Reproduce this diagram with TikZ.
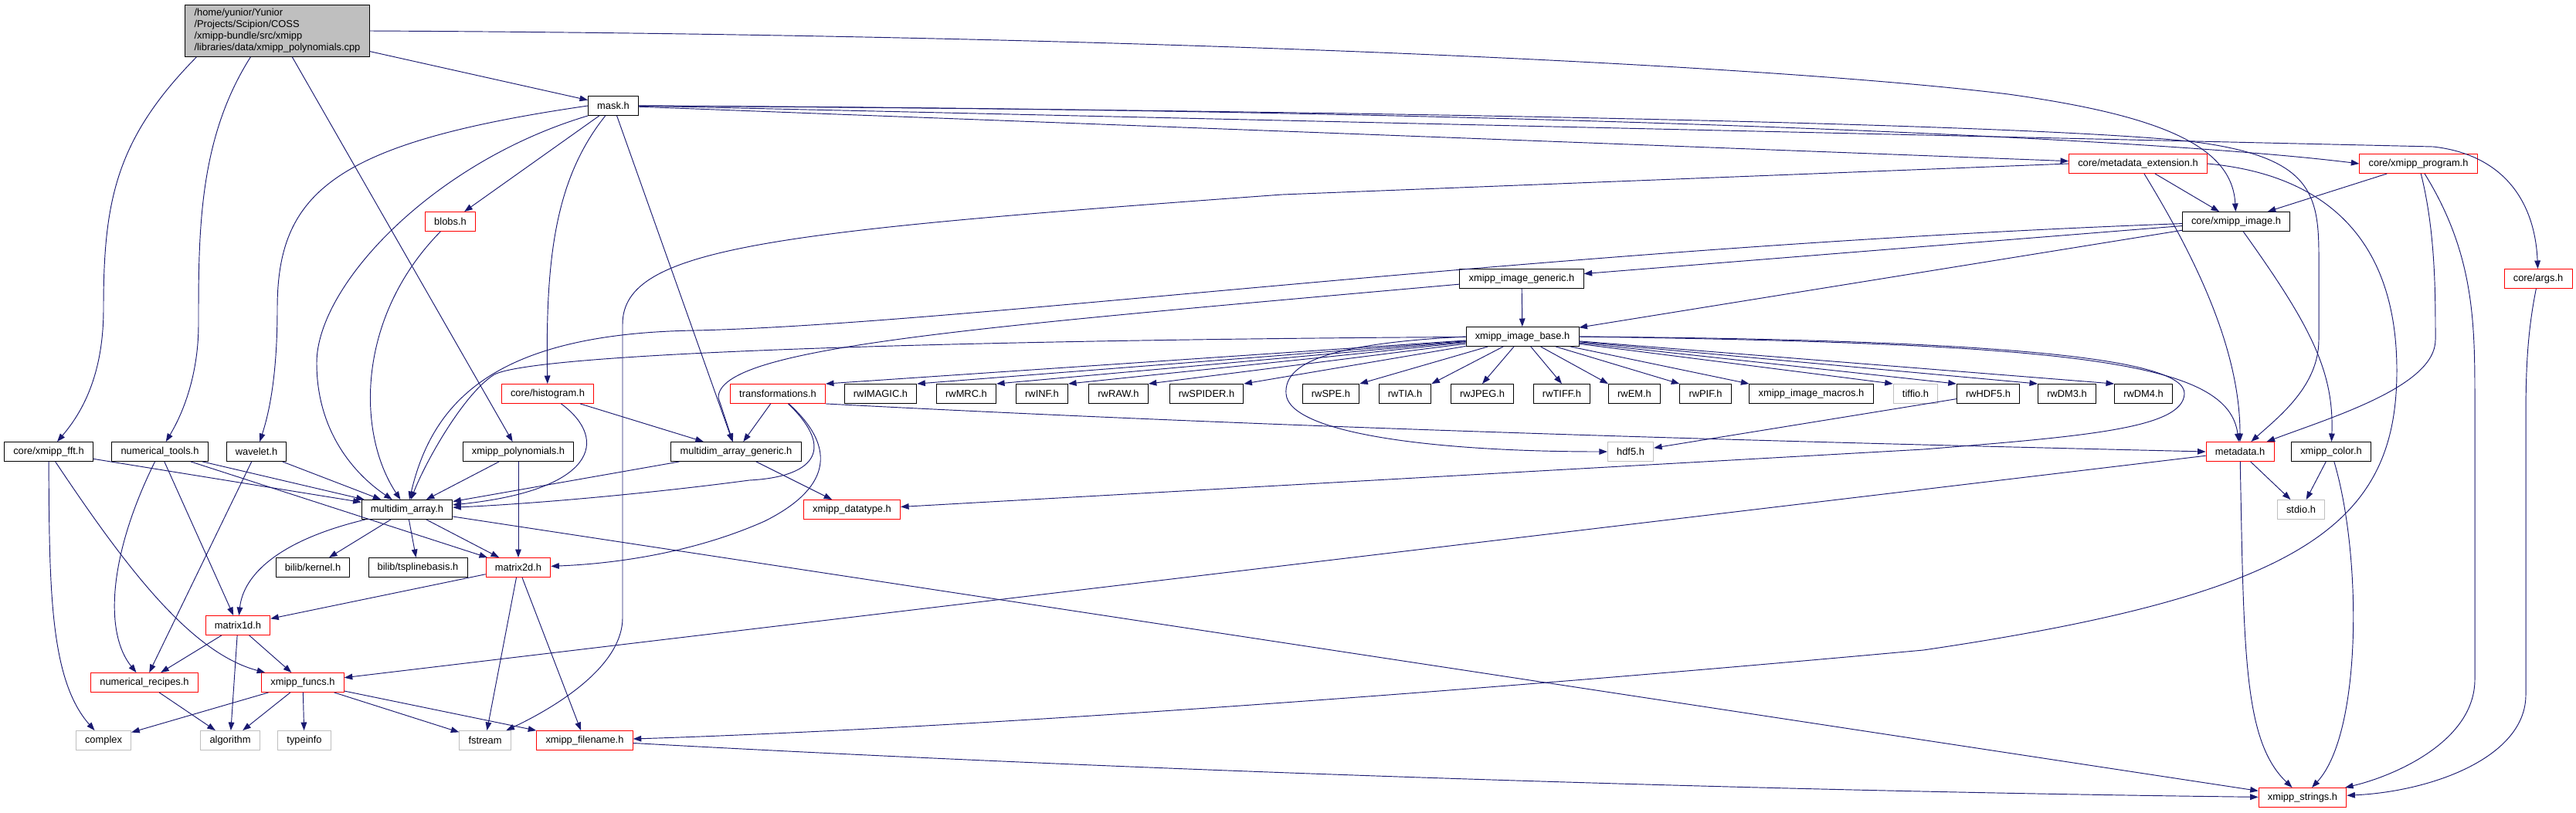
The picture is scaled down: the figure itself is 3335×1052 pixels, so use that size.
\documentclass[tikz,border=0pt]{standalone}
\usepackage{fontspec}
\setmainfont{Liberation Sans}
\usetikzlibrary{arrows.meta,calc,positioning}
\definecolor{edgeblue}{HTML}{191970}
\definecolor{boxred}{HTML}{FF0000}
\definecolor{boxgrey}{HTML}{BFBFBF}

\begin{document}
\begin{tikzpicture}[x=0.03cm,y=-0.03cm,
every node/.style={draw,rectangle,fill=white,font=\fontsize{11}{12.8}\selectfont,
  inner xsep=10pt,inner ysep=2pt,minimum height=21.3pt,line width=0.8pt},
rednode/.style={draw=boxred},
greynode/.style={draw=boxgrey},
inc/.style={draw=edgeblue,line width=0.8pt,-{Triangle[length=9pt,width=6.5pt]}}]
\useasboundingbox[fill=white] (0,0) rectangle (3335,1052);

% files
\node[fill=boxgrey,align=left,inner ysep=4.2pt] (polycpp) at (359,40) {/home/yunior/Yunior\\/Projects/Scipion/COSS\\/xmipp-bundle/src/xmipp\\/libraries/data/xmipp\_polynomials.cpp};
\node (maskh) at (794,137) {mask.h};
\node[rednode] (blobsh) at (583,287) {blobs.h};
\node[rednode] (metadataextensionh) at (2768,212) {core/metadata\_extension.h};
\node[rednode] (xmippprogramh) at (3131,212) {core/xmipp\_program.h};
\node (xmippimageh) at (2895,287) {core/xmipp\_image.h};
\node[rednode] (coreargsh) at (3286,361) {core/args.h};
\node (xmippimagegenerich) at (1970,361) {xmipp\_image\_generic.h};
\node (xmippimagebaseh) at (1971,436) {xmipp\_image\_base.h};
\node[rednode] (histogramh) at (709,510) {core/histogram.h};
\node[rednode] (transformationsh) at (1007,510) {transformations.h};
\node (rwIMAGICh) at (1140,510) {rwIMAGIC.h};
\node (rwMRCh) at (1251,510) {rwMRC.h};
\node (rwINFh) at (1349,510) {rwINF.h};
\node (rwRAWh) at (1448,510) {rwRAW.h};
\node (rwSPIDERh) at (1562,510) {rwSPIDER.h};
\node (rwSPEh) at (1723,510) {rwSPE.h};
\node (rwTIAh) at (1819,510) {rwTIA.h};
\node (rwJPEGh) at (1919,510) {rwJPEG.h};
\node (rwTIFFh) at (2022,510) {rwTIFF.h};
\node (rwEMh) at (2116,510) {rwEM.h};
\node (rwPIFh) at (2208,510) {rwPIF.h};
\node (xmippimagemacrosh) at (2345,510) {xmipp\_image\_macros.h};
\node[greynode] (tiffioh) at (2480,510) {tiffio.h};
\node (rwHDF5h) at (2574,510) {rwHDF5.h};
\node (rwDM3h) at (2676,510) {rwDM3.h};
\node (rwDM4h) at (2775,510) {rwDM4.h};
\node (corexmippffth) at (63,585) {core/xmipp\_fft.h};
\node (numericaltoolsh) at (207,585) {numerical\_tools.h};
\node (waveleth) at (332,585) {wavelet.h};
\node (xmipppolynomialsh) at (671,585) {xmipp\_polynomials.h};
\node (multidimarraygenerich) at (953,585) {multidim\_array\_generic.h};
\node[greynode] (hdf5h) at (2111,585) {hdf5.h};
\node[rednode] (metadatah) at (2900,585) {metadata.h};
\node (xmippcolorh) at (3018,585) {xmipp\_color.h};
\node (multidimarrayh) at (527,660) {multidim\_array.h};
\node[rednode] (xmippdatatypeh) at (1103,660) {xmipp\_datatype.h};
\node[greynode] (stdioh) at (2979,660) {stdio.h};
\node (bilibkernelh) at (405,735) {bilib/kernel.h};
\node (bilibtsplinebasish) at (541,735) {bilib/tsplinebasis.h};
\node[rednode] (matrix2dh) at (671,735) {matrix2d.h};
\node[rednode] (matrix1dh) at (308,810) {matrix1d.h};
\node[rednode] (numericalrecipesh) at (187,884) {numerical\_recipes.h};
\node[rednode] (xmippfuncsh) at (392,884) {xmipp\_funcs.h};
\node[greynode] (complex) at (134,959) {complex};
\node[greynode] (algorithm) at (298,959) {algorithm};
\node[greynode] (typeinfo) at (394,959) {typeinfo};
\node[greynode] (fstream) at (628,959) {fstream};
\node[rednode] (xmippfilenameh) at (757,959) {xmipp\_filename.h};
\node[rednode] (xmippstringsh) at (2981,1033) {xmipp\_strings.h};

% includes of the cpp file
\draw[inc] (polycpp) -- (maskh);
\draw[inc] (polycpp.east) .. controls (1500,45) and (2300,85) .. (2600,122) .. controls (2800,150) and (2890,190) .. (xmippimageh);
\draw[inc] ($(polycpp.south west)+(15,0)$) .. controls (150,180) and (134,260) .. (134,400) .. controls (134,480) and (110,530) .. (corexmippffth);
\draw[inc] ($(polycpp.south west)+(85,0)$) .. controls (257,180) and (257,300) .. (257,420) .. controls (257,480) and (240,530) .. (numericaltoolsh);
\draw[inc] (polycpp) -- (xmipppolynomialsh);

% mask.h
\draw[inc] (maskh) -- (blobsh);
\draw[inc] (maskh) .. controls (720,230) and (706,330) .. (histogramh);
\draw[inc] (maskh.west) .. controls (430,185) and (359,250) .. (359,400) .. controls (359,480) and (350,530) .. (waveleth);
\draw[inc] (maskh.south west) .. controls (560,210) and (410,370) .. (410,470) .. controls (410,560) and (460,615) .. (multidimarrayh);
\draw[inc] (maskh) -- (multidimarraygenerich);
\draw[inc] (maskh) -- (metadataextensionh);
\draw[inc] (maskh.east) .. controls (2000,142) and (2800,180) .. (xmippprogramh.west);
\draw[inc] (maskh.east) -- (3150,190) .. controls (3240,200) and (3282,260) .. (coreargsh);
\draw[inc] (maskh.east) .. controls (2000,145) and (2700,165) .. (2850,185) .. controls (2990,205) and (3002,250) .. (3002,330) -- (3002,440) .. controls (3002,500) and (2950,540) .. (metadatah);

% core headers
\draw[inc] (metadataextensionh) -- (xmippimageh);
\draw[inc] (metadataextensionh) .. controls (2840,330) and (2900,450) .. (metadatah);
\draw[inc] (metadataextensionh.west) -- (1660,252) .. controls (1000,300) and (806,320) .. (806,420) -- (806,800) .. controls (806,870) and (700,925) .. (fstream);
\draw[inc] (metadataextensionh.east) .. controls (3000,225) and (3103,300) .. (3103,480) .. controls (3103,680) and (2980,770) .. (2490,842) .. controls (1800,905) and (1200,945) .. (xmippfilenameh);
\draw[inc] (xmippprogramh) -- (xmippimageh);
\draw[inc] (xmippprogramh) .. controls (3153,300) and (3153,380) .. (3153,440) .. controls (3153,500) and (3020,540) .. (metadatah);
\draw[inc] (xmippprogramh) .. controls (3204,330) and (3204,420) .. (3204,520) -- (3204,880) .. controls (3204,960) and (3100,1005) .. (xmippstringsh);
\draw[inc] (coreargsh) .. controls (3272,430) and (3270,480) .. (3270,540) -- (3270,900) .. controls (3270,980) and (3150,1025) .. (xmippstringsh);
\draw[inc] (xmippimageh) .. controls (2990,420) and (3022,480) .. (xmippcolorh);
\draw[inc] (xmippimageh) -- (xmippimagegenerich);
\draw[inc] (xmippimageh) -- (xmippimagebaseh);
\draw[inc] (xmippimageh) .. controls (2000,320) and (1250,420) .. (900,428) .. controls (640,432) and (560,520) .. (multidimarrayh);
\draw[inc] (xmippimagegenerich) -- (xmippimagebaseh);
\draw[inc] (xmippimagegenerich) .. controls (1250,425) and (930,450) .. (930,515) -- (multidimarraygenerich);

% xmipp_image_base.h
\draw[inc] (xmippimagebaseh) -- (transformationsh.north east);
\draw[inc] (xmippimagebaseh) -- (rwIMAGICh.north east);
\draw[inc] (xmippimagebaseh) -- (rwMRCh.north east);
\draw[inc] (xmippimagebaseh) -- (rwINFh.north east);
\draw[inc] (xmippimagebaseh) -- (rwRAWh.north east);
\draw[inc] (xmippimagebaseh) -- (rwSPIDERh.north east);
\draw[inc] (xmippimagebaseh) -- (rwSPEh.north east);
\draw[inc] (xmippimagebaseh) -- (rwTIAh.north east);
\draw[inc] (xmippimagebaseh) -- (rwJPEGh.north);
\draw[inc] (xmippimagebaseh) -- (rwTIFFh.north);
\draw[inc] (xmippimagebaseh) -- (rwEMh.north west);
\draw[inc] (xmippimagebaseh) -- (rwPIFh.north west);
\draw[inc] (xmippimagebaseh) -- (xmippimagemacrosh.north west);
\draw[inc] (xmippimagebaseh) -- (tiffioh.north west);
\draw[inc] (xmippimagebaseh) -- (rwHDF5h.north west);
\draw[inc] (xmippimagebaseh) -- (rwDM3h.north west);
\draw[inc] (xmippimagebaseh) -- (rwDM4h.north west);
\draw[inc] (xmippimagebaseh) .. controls (1300,440) and (700,455) .. (640,485) .. controls (600,510) and (550,600) .. (multidimarrayh);
\draw[inc] (xmippimagebaseh.west) .. controls (1720,445) and (1662,470) .. (1665,510) .. controls (1668,560) and (1850,585) .. (hdf5h);
\draw[inc] (xmippimagebaseh.east) .. controls (2600,440) and (2830,465) .. (2828,510) .. controls (2826,555) and (2700,565) .. (2490,582) -- (xmippdatatypeh);
\draw[inc] (xmippimagebaseh.east) .. controls (2700,445) and (2885,470) .. (metadatah);
\draw[inc] (rwHDF5h) -- (hdf5h);

% transformations.h, histogram, blobs
\draw[inc] (transformationsh) -- (multidimarraygenerich);
\draw[inc] (transformationsh) .. controls (1085,585) and (1050,618) .. (970,622) .. controls (850,638) and (700,652) .. (multidimarrayh);
\draw[inc] (transformationsh) .. controls (1095,590) and (1060,640) .. (990,675) .. controls (900,715) and (800,730) .. (matrix2dh);
\draw[inc] (transformationsh.south east) .. controls (1700,556) and (2300,572) .. (metadatah.west);
\draw[inc] (histogramh) .. controls (790,570) and (770,635) .. (multidimarrayh);
\draw[inc] (histogramh) -- (multidimarraygenerich);
\draw[inc] (blobsh) .. controls (462,410) and (461,560) .. (multidimarrayh);

% second row
\draw[inc] (corexmippffth) .. controls (64,760) and (64,880) .. (complex);
\draw[inc] (corexmippffth) .. controls (160,730) and (245,845) .. (xmippfuncsh);
\draw[inc] (corexmippffth) -- (multidimarrayh);
\draw[inc] (numericaltoolsh) .. controls (140,720) and (135,820) .. (numericalrecipesh);
\draw[inc] (numericaltoolsh) -- (matrix1dh);
\draw[inc] (numericaltoolsh) -- (matrix2dh);
\draw[inc] (numericaltoolsh) -- (multidimarrayh);
\draw[inc] (waveleth) -- (numericalrecipesh);
\draw[inc] (waveleth) -- (multidimarrayh);
\draw[inc] (xmipppolynomialsh) -- (multidimarrayh);
\draw[inc] (xmipppolynomialsh) -- (matrix2dh);
\draw[inc] (multidimarraygenerich) -- (multidimarrayh);
\draw[inc] (multidimarraygenerich) -- (xmippdatatypeh);

% multidim_array.h and below
\draw[inc] (multidimarrayh) .. controls (360,700) and (315,745) .. (matrix1dh);
\draw[inc] (multidimarrayh) -- (bilibkernelh);
\draw[inc] (multidimarrayh) -- (bilibtsplinebasish);
\draw[inc] (multidimarrayh) -- (matrix2dh);
\draw[inc] (multidimarrayh) -- (xmippstringsh);
\draw[inc] (matrix2dh) -- (matrix1dh);
\draw[inc] (matrix2dh) -- (fstream);
\draw[inc] (matrix2dh) -- (xmippfilenameh);
\draw[inc] (matrix1dh) -- (numericalrecipesh);
\draw[inc] (matrix1dh) -- (algorithm);
\draw[inc] (matrix1dh) -- (xmippfuncsh);
\draw[inc] (numericalrecipesh) -- (algorithm);
\draw[inc] (xmippfuncsh) -- (complex);
\draw[inc] (xmippfuncsh) -- (algorithm);
\draw[inc] (xmippfuncsh) -- (typeinfo);
\draw[inc] (xmippfuncsh) -- (fstream);
\draw[inc] (xmippfuncsh) -- (xmippfilenameh);
\draw[inc] (xmippfilenameh) .. controls (1500,1000) and (2300,1025) .. (xmippstringsh);

% metadata.h, xmipp_color.h
\draw[inc] (metadatah) -- (xmippfuncsh);
\draw[inc] (metadatah) .. controls (2905,850) and (2905,960) .. (xmippstringsh);
\draw[inc] (metadatah) -- (stdioh);
\draw[inc] (xmippcolorh) -- (stdioh);
\draw[inc] (xmippcolorh) .. controls (3058,720) and (3058,950) .. (xmippstringsh);
\end{tikzpicture}
\end{document}
